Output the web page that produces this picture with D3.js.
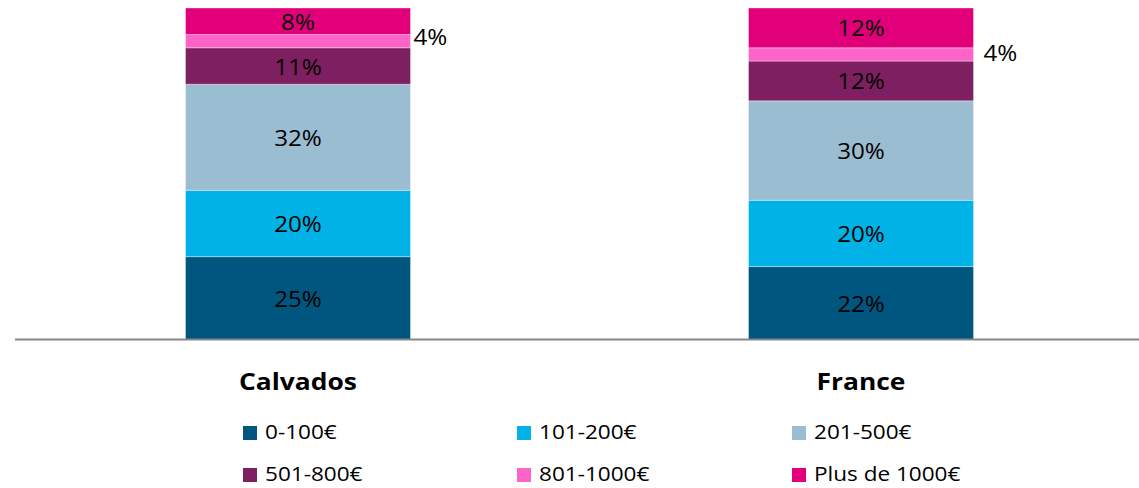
<!DOCTYPE html>
<html>
<head>
<meta charset="utf-8">
<script src="https://cdn.jsdelivr.net/npm/d3@7"></script>
<style>
  html, body { margin: 0; padding: 0; background: #fff; }
  svg { display: block; font-family: "Open Sans", Carlito, Calibri, sans-serif; }
</style>
</head>
<body>
<svg id="chart" width="1139" height="488"></svg>
<script>
// Répartition par tranche de montant (%)
const categories = ["Calvados", "France"];
const tranches = ["0-100€", "101-200€", "201-500€", "501-800€", "801-1000€", "Plus de 1000€"];
const calvados = [25, 20, 32, 11, 4, 8];
const france = [22, 20, 30, 12, 4, 12];
const colors = ["#00567f", "#00b2e5", "#9bbdd1", "#7e1f62", "#fd64c8", "#e2007a"];

const seriesByCat = [calvados, france];

// text is drawn slightly widened horizontally
const stretch = 1.1;

const svg = d3.select("#chart");
const baseY = 339.5, topY = 8;

const x = d3.scaleBand().domain(categories).range([16.5, 1142.5]).paddingInner(0.6).paddingOuter(0.3);
const y = d3.scaleLinear().domain([0, 100]).range([baseY, topY]);

// stacked rows
const rows = categories.map((c, i) => {
  const o = { cat: c };
  tranches.forEach((t, j) => o[t] = seriesByCat[i][j]);
  return o;
});
const stack = d3.stack().keys(tranches)(rows);

const bw = 225;
const cx = c => x(c) + x.bandwidth() / 2;

// small segments get their label outside the bar, to the right
const smallLimit = 6;
const outsideNudge = { Calvados: [3, 4], France: [10, 7] };

const layers = svg.append("g").selectAll("g").data(stack).join("g")
  .attr("fill", (d, i) => colors[i]);

layers.selectAll("rect").data(d => d.map(p => ({ p, key: d.key }))).join("rect")
  .attr("x", d => cx(d.p.data.cat) - bw / 2)
  .attr("width", bw)
  .attr("y", d => y(d.p[1]))
  .attr("height", d => y(d.p[0]) - y(d.p[1]))
  .attr("stroke", "#ffffff")
  .attr("stroke-opacity", 0.35)
  .attr("stroke-width", 1);

// value labels
layers.selectAll("text").data(d => d.map(p => ({ p, key: d.key }))).join("text")
  .attr("fill", "#000")
  .attr("font-size", 22)
  .attr("text-anchor", d => (d.p[1] - d.p[0]) < smallLimit ? "start" : "middle")
  .attr("transform", d => {
    const v = d.p[1] - d.p[0];
    const mid = y((d.p[0] + d.p[1]) / 2);
    const cat = d.p.data.cat;
    let tx, ty;
    if (v < smallLimit) {
      tx = cx(cat) + bw / 2 + outsideNudge[cat][0];
      ty = mid + outsideNudge[cat][1];
    } else {
      tx = cx(cat);
      ty = mid + 8.5;
    }
    return `translate(${tx},${ty}) scale(${stretch},1)`;
  })
  .text(d => (d.p[1] - d.p[0]) + "%");

// axis baseline
svg.append("line")
  .attr("x1", 15).attr("x2", 1139)
  .attr("y1", baseY).attr("y2", baseY)
  .attr("stroke", "#868686").attr("stroke-width", 2);

// category labels
svg.append("g").selectAll("text").data(categories).join("text")
  .attr("transform", d => `translate(${cx(d)},390) scale(${stretch},1)`)
  .attr("text-anchor", "middle")
  .attr("font-size", 24)
  .attr("font-weight", "bold")
  .attr("fill", "#000")
  .text(d => d);

// legend
const legX = [243, 517, 792];
const legY = [426, 468];
const leg = svg.append("g").selectAll("g").data(tranches).join("g")
  .attr("transform", (d, i) => `translate(${legX[i % 3]},${legY[Math.floor(i / 3)]})`);
leg.append("rect").attr("width", 14).attr("height", 14).attr("fill", (d, i) => colors[i]);
leg.append("text")
  .attr("transform", `translate(22,12.5) scale(${stretch},1)`)
  .attr("font-size", 20.5).attr("fill", "#000").text(d => d);
</script>
</body>
</html>
